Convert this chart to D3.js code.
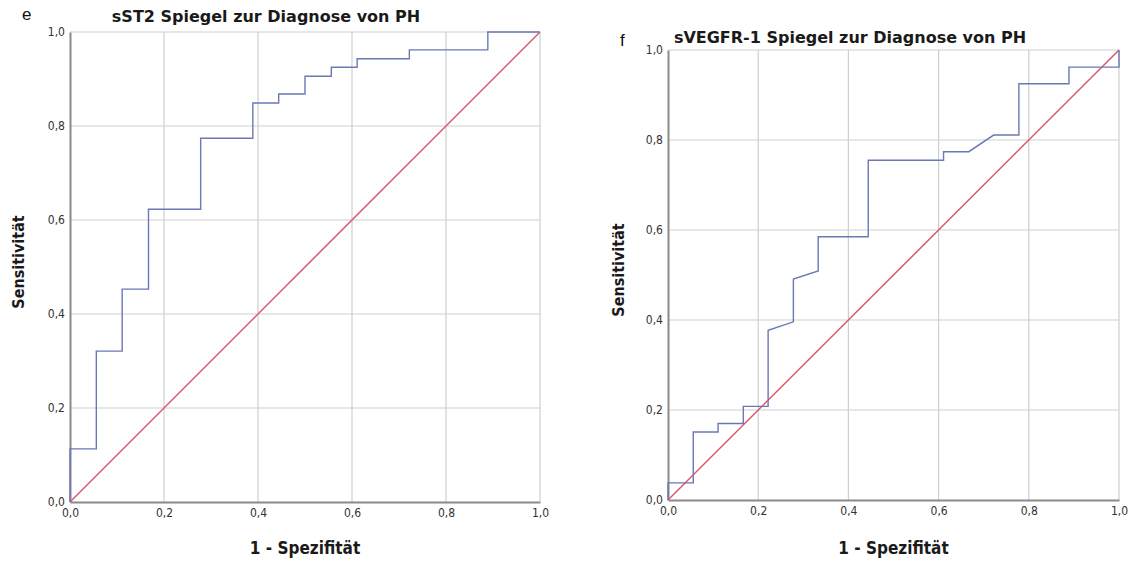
<!DOCTYPE html>
<html>
<head>
<meta charset="utf-8">
<script src="https://cdn.jsdelivr.net/npm/d3@7"></script>
<style>
  body { margin: 0; background: #fff; }
  svg text { font-family: "DejaVu Sans", sans-serif; }
</style>
</head>
<body>
<div id="chart"></div>
<script>
var width = 1138,
    height = 561;

var ticks = [0, 0.2, 0.4, 0.6, 0.8, 1.0];

// sST2 ROC curve (1 - Spezifitaet, Sensitivitaet)
var sst2_x = [0, 0, 0.056, 0.056, 0.111, 0.111, 0.167, 0.167, 0.278, 0.278, 0.389, 0.389, 0.444, 0.444, 0.5, 0.5, 0.556, 0.556, 0.611, 0.611, 0.722, 0.722, 0.889, 0.889, 1.0];
var sst2_y = [0, 0.113, 0.113, 0.321, 0.321, 0.453, 0.453, 0.623, 0.623, 0.774, 0.774, 0.849, 0.849, 0.868, 0.868, 0.906, 0.906, 0.925, 0.925, 0.943, 0.943, 0.962, 0.962, 1.0, 1.0];

// sVEGFR-1 ROC curve
var vegf_x = [0, 0, 0.056, 0.056, 0.111, 0.111, 0.167, 0.167, 0.222, 0.222, 0.278, 0.278, 0.333, 0.333, 0.444, 0.444, 0.611, 0.611, 0.667, 0.722, 0.778, 0.778, 0.889, 0.889, 1.0, 1.0];
var vegf_y = [0, 0.038, 0.038, 0.151, 0.151, 0.170, 0.170, 0.208, 0.208, 0.377, 0.396, 0.491, 0.509, 0.585, 0.585, 0.755, 0.755, 0.774, 0.774, 0.811, 0.811, 0.925, 0.925, 0.962, 0.962, 1.0];

var ref_line = [0, 1];

var svg = d3.select("#chart").append("svg")
    .attr("width", width)
    .attr("height", height);

function fmt(v) {
    return v.toFixed(1).replace(".", ",");
}

function draw_panel(opt) {
    var x = d3.scaleLinear().domain([0, 1]).range([opt.left, opt.right]),
        y = d3.scaleLinear().domain([0, 1]).range([opt.bottom, opt.top]);

    var g = svg.append("g");

    // grid
    g.selectAll(".gx").data(ticks.slice(1)).enter().append("line")
        .attr("x1", d => x(d)).attr("x2", d => x(d))
        .attr("y1", y(0)).attr("y2", y(1))
        .attr("stroke", "#cfcfcf").attr("stroke-width", 1.2);
    g.selectAll(".gy").data(ticks.slice(1)).enter().append("line")
        .attr("x1", x(0)).attr("x2", x(1))
        .attr("y1", d => y(d)).attr("y2", d => y(d))
        .attr("stroke", "#cfcfcf").attr("stroke-width", 1.2);

    // axes
    var xAxis = g.append("g").attr("transform", "translate(0," + y(0) + ")")
        .call(d3.axisBottom(x).tickValues(ticks).tickFormat(fmt).tickSize(0).tickPadding(6));
    var yAxis = g.append("g").attr("transform", "translate(" + x(0) + ",0)")
        .call(d3.axisLeft(y).tickValues(ticks).tickFormat(fmt).tickSize(0).tickPadding(5));
    [xAxis, yAxis].forEach(function (a) {
        a.select(".domain").attr("stroke", "#8a8a8a").attr("stroke-width", 2);
        a.selectAll("text").attr("font-size", 12).attr("fill", "#333")
            .style("font-family", "'DejaVu Sans Condensed', 'Liberation Sans Narrow', sans-serif");
    });

    // reference diagonal
    g.append("path")
        .datum(ref_line)
        .attr("d", d3.line().x(d => x(d)).y(d => y(d)))
        .attr("fill", "none").attr("stroke", "#d9576f").attr("stroke-width", 1.5);

    // roc curve
    var pts = d3.zip(opt.xs, opt.ys);
    g.append("path")
        .datum(pts)
        .attr("d", d3.line().x(d => x(d[0])).y(d => y(d[1])))
        .attr("fill", "none").attr("stroke", "#6b78b6").attr("stroke-width", 1.4);

    // texts
    svg.append("text")
        .attr("x", opt.titleX).attr("y", opt.titleY)
        .attr("text-anchor", "middle").attr("font-weight", "bold").attr("font-size", 16)
        .attr("fill", "#1a1a1a")
        .text(opt.title);
    svg.append("text")
        .attr("x", opt.letterX).attr("y", opt.letterY)
        .attr("font-size", 17).attr("fill", "#111")
        .style("font-family", "'Liberation Sans', Arial, sans-serif")
        .text(opt.letter);
    svg.append("text")
        .attr("x", (opt.left + opt.right) / 2).attr("y", opt.xlabY)
        .attr("text-anchor", "middle").attr("font-weight", "bold").attr("font-size", 17)
        .attr("fill", "#1a1a1a")
        .style("font-family", "'DejaVu Sans Condensed', sans-serif")
        .text("1 - Spezifität");
    svg.append("text")
        .attr("transform", "translate(" + opt.ylabX + "," + ((opt.top + opt.bottom) / 2 - 5) + ") rotate(-90)")
        .attr("text-anchor", "middle").attr("font-weight", "bold").attr("font-size", 16)
        .attr("fill", "#1a1a1a")
        .style("font-family", "'DejaVu Sans Condensed', sans-serif")
        .text("Sensitivität");
}

draw_panel({
    left: 70, right: 540, top: 32, bottom: 502,
    xs: sst2_x, ys: sst2_y,
    title: "sST2 Spiegel zur Diagnose von PH", titleX: 266, titleY: 22,
    letter: "e", letterX: 22, letterY: 20,
    xlabY: 554, ylabX: 24
});

draw_panel({
    left: 668, right: 1119, top: 50, bottom: 500,
    xs: vegf_x, ys: vegf_y,
    title: "sVEGFR-1 Spiegel zur Diagnose von PH", titleX: 850, titleY: 43,
    letter: "f", letterX: 620, letterY: 46,
    xlabY: 554, ylabX: 624
});
</script>
</body>
</html>
